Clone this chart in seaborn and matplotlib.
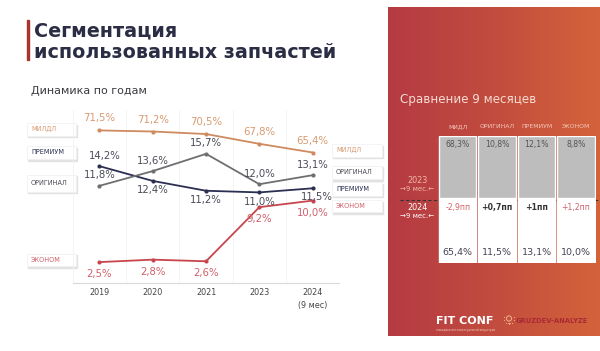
import numpy as np
import pandas as pd
import seaborn as sns
import matplotlib.pyplot as plt
from matplotlib.patches import Rectangle, Circle
from matplotlib.colors import LinearSegmentedColormap

# -------------------------------
# Data
# -------------------------------
years = ["2019", "2020", "2021", "2023", "2024\n(9 мес)"]
midl = [71.5, 71.2, 70.5, 67.8, 65.4]
premium = [14.2, 12.4, 11.2, 11.0, 11.5]
original = [11.8, 13.6, 15.7, 12.0, 13.1]
econom = [2.5, 2.8, 2.6, 9.2, 10.0]

cmp_segments = ["МИДЛ", "ОРИГИНАЛ", "ПРЕМИУМ", "ЭКОНОМ"]
cmp_2023 = [68.3, 10.8, 12.1, 8.8]
cmp_2024 = [65.4, 11.5, 13.1, 10.0]

# -------------------------------
# Style
# -------------------------------
sns.set_theme(style="white")
plt.rcParams['font.family'] = ['DejaVu Sans']

C_MIDL = "#cf8a5f"
C_PREM = "#2c2f52"
C_ORIG = "#6f6f72"
C_ECON = "#c8454e"
C_MIDL_T = "#d89a70"
C_DARK_T = "#4b4b58"
C_ECON_T = "#d0606a"

W, H = 600, 351
fig = plt.figure(figsize=(6, 3.51), dpi=100)
fig.patch.set_facecolor("white")


def fx(px):
    return px / W


def fy(py):
    return 1 - py / H


# background layer in pixel coords
bg = fig.add_axes([0, 0, 1, 1], zorder=0)
bg.axis("off")

# title
bg.add_patch(Rectangle((26.5, 20), 2.5, 40, color="#a8342f"))
bg.text(34, 31, "Сегментация", fontsize=13.8, fontweight="bold", color="#2b2d45", va="center")
bg.text(34, 52, "использованных запчастей", fontsize=13.8, fontweight="bold", color="#2b2d45", va="center")
bg.text(31, 91, "Динамика по годам", fontsize=8, color="#3a3a40", va="center")

# right panel gradient
grad = np.linspace(0, 1, 256)[None, :]
grad = np.vstack([grad, grad])
cmap = LinearSegmentedColormap.from_list("panel", ["#b53a43", "#c24c3e", "#d4633b"])
bg.imshow(grad, cmap=cmap, extent=(388, 600, 336, 7), aspect="auto", zorder=0)
bg.set_xlim(0, W)
bg.set_ylim(H, 0)


# legend boxes beside line chart
def label_box(x0, y0, w, h, text, color):
    bg.add_patch(Rectangle((x0 + 1.2, y0 + 1.5), w, h, color="#e2e2e2", zorder=1))
    bg.add_patch(Rectangle((x0, y0), w, h, facecolor="white", edgecolor="#f0f0f0", lw=0.5, zorder=2))
    bg.text(x0 + 4, y0 + h / 2, text, fontsize=4.7, color=color, va="center", zorder=3)


label_box(27, 123, 49, 12.5, "МИЛДЛ", C_MIDL_T)
label_box(27, 146, 49, 13, "ПРЕМИУМ", C_PREM)
label_box(27, 174.5, 49, 17, "ОРИГИНАЛ", C_DARK_T)
label_box(27, 253.5, 49, 12.5, "ЭКОНОМ", C_ECON_T)

label_box(332, 144, 50, 12.5, "МИЛДЛ", C_MIDL_T)
label_box(332, 165.5, 50, 13.5, "ОРИГИНАЛ", C_DARK_T)
label_box(332, 182, 50, 13.5, "ПРЕМИУМ", C_PREM)
label_box(332, 200, 50, 12, "ЭКОНОМ", C_ECON_T)

# -------------------------------
# Line chart
# -------------------------------
ax_top_px, ax_bot_px = 110, 282.6
ax = fig.add_axes([fx(72.8), fy(ax_bot_px), fx(339.3 - 72.8), (ax_bot_px - ax_top_px) / H], zorder=2)
ax.patch.set_alpha(0)
ax2 = ax.twinx()
ax2.patch.set_alpha(0)

x_idx = list(range(len(years)))
df = pd.DataFrame({
    "x": x_idx * 3,
    "value": premium + original + econom,
    "segment": ["ПРЕМИУМ"] * 5 + ["ОРИГИНАЛ"] * 5 + ["ЭКОНОМ"] * 5,
})
df_midl = pd.DataFrame({"x": x_idx, "value": midl})

sns.lineplot(data=df, x="x", y="value", hue="segment",
             palette={"ПРЕМИУМ": C_PREM, "ОРИГИНАЛ": C_ORIG, "ЭКОНОМ": C_ECON},
             marker="o", markersize=3, markeredgewidth=0, linewidth=1.3,
             legend=False, ax=ax)
sns.lineplot(data=df_midl, x="x", y="value", color=C_MIDL, marker="o", markersize=3,
             markeredgewidth=0, linewidth=1.3, legend=False, ax=ax2)

# lower scale: 0 at baseline, 8.2 px per percent
ax.set_ylim(0, (ax_bot_px - ax_top_px) / 8.2)
# upper scale for МИЛДЛ: 65.4 at y=152.5px, 3.62 px per percent
ax2.set_ylim(65.4 - (ax_bot_px - 152.5) / 3.62, 65.4 + (152.5 - ax_top_px) / 3.62)
ax.set_xlim(-0.5, len(years) - 0.5)

for a in (ax, ax2):
    a.set_yticks([])
    a.set_ylabel("")
    a.set_xlabel("")
    for s in ["top", "right", "left"]:
        a.spines[s].set_visible(False)
ax2.spines["bottom"].set_visible(False)
ax.spines["bottom"].set_color("#d9d9d9")
ax.spines["bottom"].set_linewidth(0.8)

ax.set_xticks(x_idx)
ax.set_xticklabels(years, fontsize=5.8, color="#444444", linespacing=1.5)
ax.tick_params(axis="x", length=0, pad=4)
for b in np.arange(-0.5, len(years), 1.0):
    ax.axvline(b, color="#f2f2f2", lw=0.6, zorder=0)


def fmt(v):
    return f"{v:.1f}%".replace(".", ",")


off = dict(textcoords="offset points", ha="center", fontsize=7.3)
for i, v in enumerate(midl):
    ax2.annotate(fmt(v), (i, v), xytext=(0, 5), va="bottom", color=C_MIDL_T, **off)
for i, v in enumerate(premium):
    if i == 0:
        ax.annotate(fmt(v), (i, v), xytext=(3.5, 4), va="bottom", color=C_DARK_T, **off)
    else:
        ax.annotate(fmt(v), (i, v), xytext=(3 if i == 4 else 0, -3), va="top", color=C_DARK_T, **off)
for i, v in enumerate(original):
    ax.annotate(fmt(v), (i, v), xytext=(0, 4), va="bottom", color=C_DARK_T, **off)
for i, v in enumerate(econom):
    ax.annotate(fmt(v), (i, v), xytext=(0, -5), va="top", color=C_ECON_T, **off)

# -------------------------------
# Right panel: 9-month comparison
# -------------------------------
bg.text(400, 99, "Сравнение 9 месяцев", fontsize=8.6, color="#f6dcd3", va="center")

tab_top, tab_split, tab_bot = 135.5, 198, 262.5
tx = fig.add_axes([fx(438), fy(tab_bot), fx(595.6 - 438), (tab_bot - tab_top) / H], zorder=3)
tx.patch.set_alpha(0)
tx.axis("off")
n = len(cmp_segments)
pos = np.arange(n)
split = (tab_bot - tab_split) / (tab_bot - tab_top)
tx.bar(pos, [split] * n, width=0.95, color="white", align="center")
tx.bar(pos, [1 - split] * n, bottom=split, width=0.95, color="#bdbdbd", align="center")
tx.set_xlim(-0.5, n - 0.5)
tx.set_ylim(0, 1)

for i, seg in enumerate(cmp_segments):
    tx.text(i, 1.07, seg, fontsize=4.4, color="#f3c9bd", ha="center", va="center")
    tx.text(i, 0.93, fmt(cmp_2023[i]), fontsize=5.6, color="#555555", ha="center", va="center")
    d = round(cmp_2024[i] - cmp_2023[i], 1)
    d_txt = (f"{d:+.0f}пп" if d == int(d) else f"{d:+.1f}пп").replace(".", ",")
    tx.text(i, 0.435, d_txt, fontsize=5.6, fontweight="bold" if i in (1, 2) else "normal",
            color=C_ECON_T if i in (0, 3) else "#333333", ha="center", va="center")
    tx.text(i, 0.075, fmt(cmp_2024[i]), fontsize=6.8, color="#444454", ha="center", va="center")

bg.plot([400, 600], [199.7, 199.7], color="#333333", lw=0.8, ls=(0, (3, 2)), zorder=4)
bg.text(417, 180.6, "2023", fontsize=5.8, color="#f0b9a8", ha="center", va="center")
bg.text(417, 189, "→9 мес.←", fontsize=5, color="#f0b9a8", ha="center", va="center")
bg.text(417, 207.7, "2024", fontsize=5.8, color="white", ha="center", va="center")
bg.text(417, 216.4, "→9 мес.←", fontsize=5, color="white", ha="center", va="center")

# footer logos
bg.text(435.5, 321, "FIT CONF", fontsize=8, fontweight="bold", color="white", va="center")
bg.text(435.5, 329.5, "площадка интеллектуальной индустрии", fontsize=2, color="#f3c9bd", va="center")
# small lightbulb mark drawn as shapes
bg.add_patch(Circle((509, 318.5), 2.6, facecolor="none", edgecolor="#f2b08a", lw=0.7, zorder=3))
bg.plot([508, 510], [322.5, 322.5], color="#f2b08a", lw=0.7, zorder=3)
for ang in np.linspace(np.pi * 0.9, np.pi * 2.1, 7):
    bg.plot(509 + 5 * np.cos(ang), 318.5 - 5 * np.sin(ang), marker="o", ms=0.8,
            color="#f2b08a", mew=0, zorder=3)
bg.text(516, 321, "GRUZDEV-ANALYZE", fontsize=4.9, fontweight="bold", color="#a92a35", va="center")

fig.savefig("out.png", dpi=100)
